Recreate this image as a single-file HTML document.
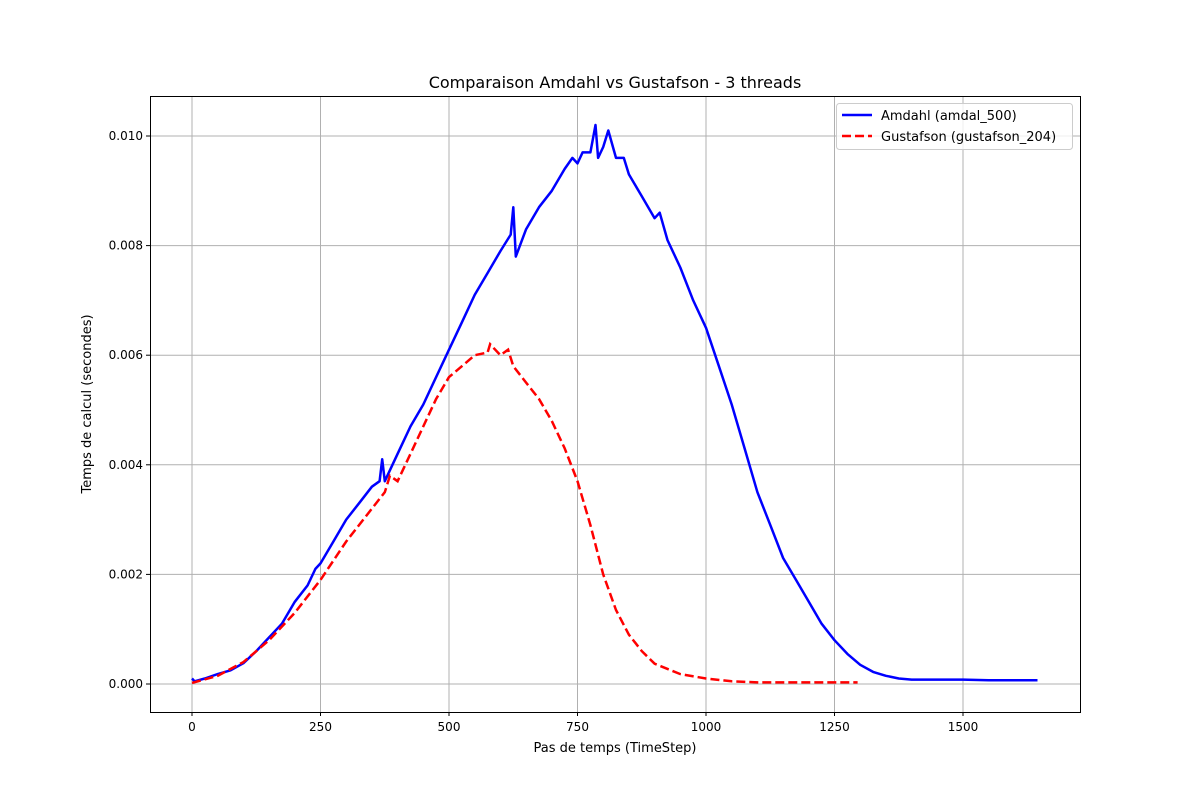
<!DOCTYPE html>
<html><head><meta charset="utf-8"><style>
body{margin:0;background:#fff;}
svg text{font-family:"DejaVu Sans","Liberation Sans",sans-serif;fill:#000;}
</style></head><body>
<svg width="1200" height="800" xmlns="http://www.w3.org/2000/svg">
<rect width="1200" height="800" fill="#fff"/>
<g id="grid"></g>
<g id="series"></g>
<rect x="150.5" y="96.5" width="930" height="616" fill="none" stroke="#000" stroke-width="1"/>
<g id="ticks"></g>
<text x="615" y="88" font-size="16" text-anchor="middle">Comparaison Amdahl vs Gustafson - 3 threads</text>
<text x="615" y="752" font-size="13" text-anchor="middle">Pas de temps (TimeStep)</text>
<text transform="translate(91,404) rotate(-90)" font-size="13" text-anchor="middle">Temps de calcul (secondes)</text>
<g>
<rect x="836.5" y="103.5" width="236" height="46" rx="3" fill="#fff" fill-opacity="0.8" stroke="#ccc"/>
<g>
<line x1="842" y1="115" x2="872" y2="115" stroke="#0000ff" stroke-width="2.5"/>
<text x="881" y="120" font-size="13">Amdahl (amdal_500)</text></g>
<g>
<line x1="842" y1="136" x2="872" y2="136" stroke="#ff0000" stroke-width="2.5" stroke-dasharray="9,4"/>
<text x="881" y="141" font-size="13">Gustafson (gustafson_204)</text></g>
</g>
</svg>
<script>
const xTicks=[0,250,500,750,1000,1250,1500];
const yTicks=[0,0.002,0.004,0.006,0.008,0.010];
const yTickLabels=["0.000","0.002","0.004","0.006","0.008","0.010"];
const amdahlSteps=[0,5,25,50,75,100,125,150,175,200,225,240,250,275,300,325,350,365,370,375,400,425,450,475,500,525,550,575,600,620,625,630,650,675,700,725,740,750,760,775,785,790,800,810,825,840,850,875,900,910,925,950,975,1000,1025,1050,1075,1100,1125,1150,1175,1200,1225,1250,1275,1300,1325,1350,1375,1400,1450,1500,1550,1600,1645];
const amdahlValues=[0.0001,0.00005,0.0001,0.00018,0.00025,0.00038,0.0006,0.00085,0.0011,0.0015,0.0018,0.0021,0.0022,0.0026,0.003,0.0033,0.0036,0.0037,0.0041,0.0037,0.0042,0.0047,0.0051,0.0056,0.0061,0.0066,0.0071,0.0075,0.0079,0.0082,0.0087,0.0078,0.0083,0.0087,0.009,0.0094,0.0096,0.0095,0.0097,0.0097,0.0102,0.0096,0.0098,0.0101,0.0096,0.0096,0.0093,0.0089,0.0085,0.0086,0.0081,0.0076,0.007,0.0065,0.0058,0.0051,0.0043,0.0035,0.0029,0.0023,0.0019,0.0015,0.0011,0.0008,0.00055,0.00035,0.00022,0.00015,0.0001,0.00008,0.00008,0.00008,0.00007,0.00007,0.00007];
const gustSteps=[0,50,100,150,200,250,300,350,375,385,400,425,450,475,500,525,550,575,580,600,615,625,650,675,700,725,750,775,800,825,850,875,900,950,1000,1050,1100,1150,1200,1250,1295];
const gustValues=[0.00002,0.00015,0.0004,0.0008,0.0013,0.0019,0.0026,0.0032,0.0035,0.0038,0.0037,0.0042,0.0047,0.0052,0.0056,0.0058,0.006,0.00605,0.0062,0.006,0.0061,0.0058,0.0055,0.0052,0.0048,0.0043,0.0037,0.0029,0.002,0.00135,0.0009,0.0006,0.00037,0.00018,0.0001,0.00005,0.00003,0.00003,0.00003,0.00003,0.00003];
const NS="http://www.w3.org/2000/svg";
function xs(v){return 192+v*0.514;}
function ys(v){return 684-v*54800;}
const grid=document.getElementById('grid'),ticks=document.getElementById('ticks'),series=document.getElementById('series');
function mk(tag,attrs,parent){const e=document.createElementNS(NS,tag);for(const k in attrs)e.setAttribute(k,attrs[k]);parent.appendChild(e);return e;}
xTicks.forEach(t=>{const x=xs(t);
const g=mk('line',{x1:x,x2:x,y1:96,y2:712,stroke:'#b0b0b0','stroke-width':1},grid);


mk('line',{x1:x,x2:x,y1:712,y2:716,stroke:'#000'},ticks);
const tx=mk('text',{x:x,y:731,'font-size':12,'text-anchor':'middle'},ticks);tx.textContent=t;

});
yTicks.forEach((t,i)=>{const y=ys(t);
const g=mk('line',{x1:150,x2:1080,y1:y,y2:y,stroke:'#b0b0b0','stroke-width':1},grid);


mk('line',{x1:146,x2:150,y1:y,y2:y,stroke:'#000'},ticks);
const tx=mk('text',{x:143,y:y+4,'font-size':12,'text-anchor':'end'},ticks);tx.textContent=yTickLabels[i];

});
function path(xsArr,vs){return xsArr.map((s,i)=>(i?'L':'M')+xs(s).toFixed(1)+','+ys(vs[i]).toFixed(1)).join('');}
const a=mk('path',{d:path(amdahlSteps,amdahlValues),fill:'none',stroke:'#0000ff','stroke-width':2.5,'stroke-linejoin':'round'},series);


const g=mk('path',{d:path(gustSteps,gustValues),fill:'none',stroke:'#ff0000','stroke-width':2.5,'stroke-dasharray':'9,4'},series);


</script>
</body></html>
